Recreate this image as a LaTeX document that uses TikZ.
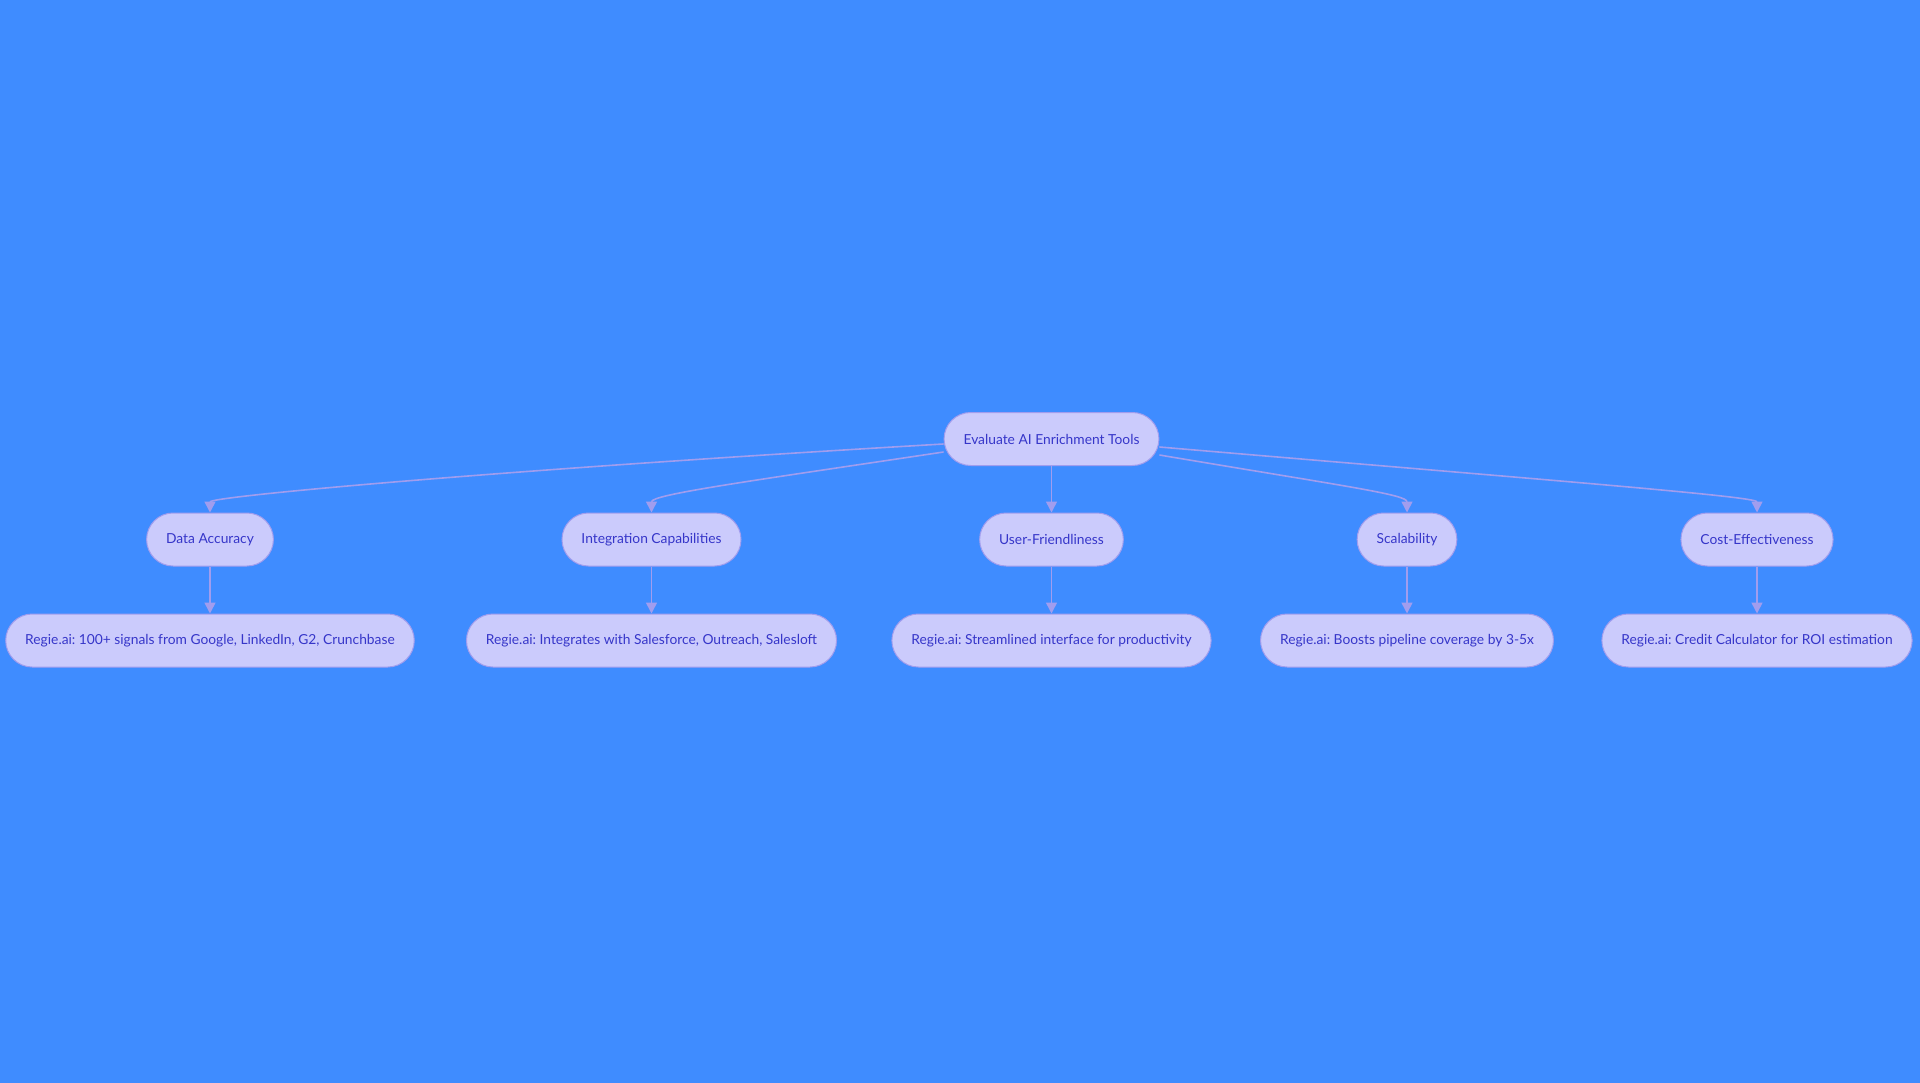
\documentclass[tikz,border=0pt]{standalone}
\usepackage{fontspec}
\setmainfont{Lato}
\frenchspacing
\usetikzlibrary{positioning,arrows.meta}
\definecolor{bgblue}{HTML}{3F8CFF}
\definecolor{boxfill}{HTML}{CBCBFC}
\definecolor{boxline}{HTML}{A19DEE}
\definecolor{boxtext}{HTML}{3636C9}
\tikzset{
>={Triangle[width=11pt,length=11pt]},
  topic/.style={
    rectangle,
    rounded corners=26.5pt,
    fill=boxfill,
    draw=boxline, line width=1pt,
    text=boxtext,
    minimum height=53pt,
    inner xsep=19.5pt,
    font=\fontsize{13.8}{16}\selectfont},
  link/.style={draw=boxline, line width=1.6pt, ->},
}

\begin{document}
\begin{tikzpicture}
  [x=1pt, y=1pt, node distance=47pt]
  % background and page size
  \fill[bgblue] (0,0) rectangle (1920,-1083);
  \node[topic] (root) at (1051.5,-439) {Evaluate AI Enrichment Tools};
  % the five criteria
  \node[topic] (acc)   at (210,-539.5)    {Data Accuracy};
  \node[topic] (integ) at (651.5,-539.5)  {Integration Capabilities};
  \node[topic] (user)  at (1051.5,-539.5) {User-Friendliness};
  \node[topic] (scal)  at (1407,-539.5)   {Scalability};
  \node[topic] (cost)  at (1757,-539.5)   {Cost-Effectiveness};
  % one Regie.ai note under each criterion
  \node[topic, below=of acc]   (accnote)   {Regie.ai: 100+ signals from Google, LinkedIn, G2, Crunchbase};
  \node[topic, below=of integ] (integnote) {Regie.ai: Integrates with Salesforce, Outreach, Salesloft};
  \node[topic, below=of user]  (usernote)  {Regie.ai: Streamlined interface for productivity};
  \node[topic, below=of scal]  (scalnote)  {Regie.ai: Boosts pipeline coverage by 3-5x};
  \node[topic, below=of cost]  (costnote)  {Regie.ai: Credit Calculator for ROI estimation};
  % Now the connectors
  %% root to criteria
  \draw[link] ([yshift=-5pt]root.west) .. controls +(-445,-26) and +(0,16) .. (acc.north);
  \draw[link] ([yshift=-13pt]root.west) .. controls +(-200,-30) and +(0,18) .. (integ.north);
  \draw[link] (root) -- (user);
  \draw[link] ([yshift=-16pt]root.east) .. controls +(190,-32) and +(0,18) .. (scal.north);
  \draw[link] ([yshift=-8pt]root.east) .. controls +(400,-34) and +(0,16) .. (cost.north);
  %% criteria to notes
  \foreach \c in {acc,integ,user,scal,cost}
    \draw[link] (\c) -- (\c note);
\end{tikzpicture}
\end{document}
